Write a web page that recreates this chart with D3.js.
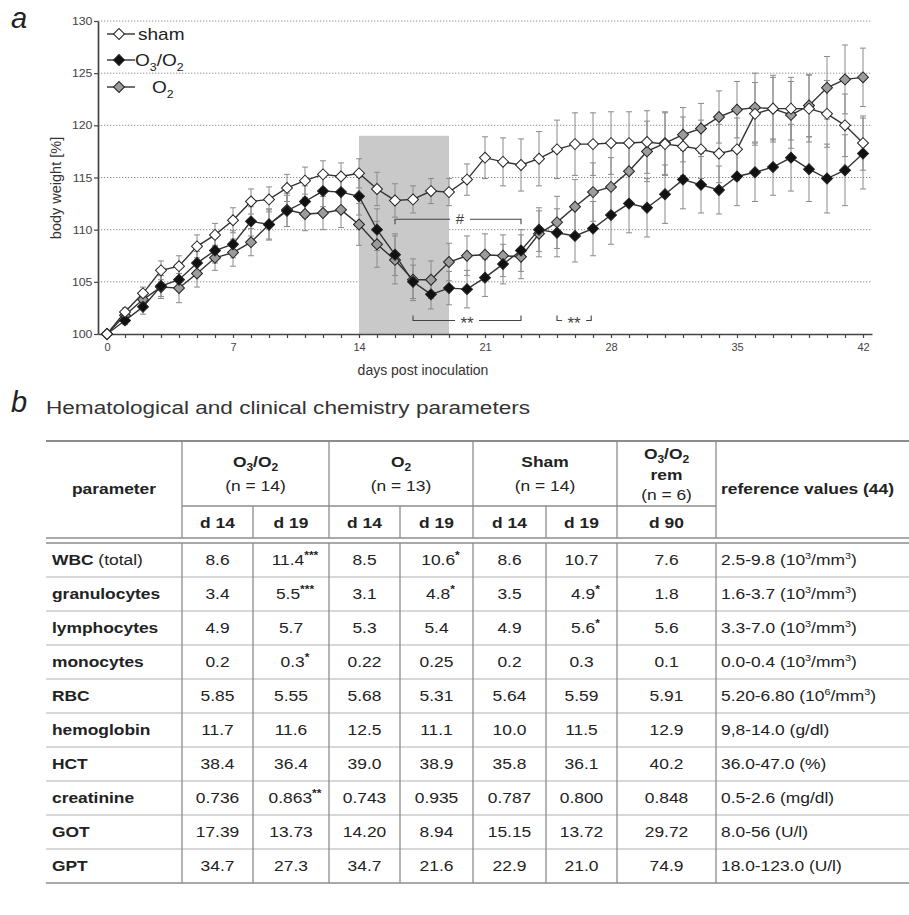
<!DOCTYPE html>
<html><head><meta charset="utf-8">
<script src="https://cdn.jsdelivr.net/npm/d3@7/dist/d3.min.js"></script>
<style>
body{margin:0;background:#fff}
svg{display:block}
text{font-family:"Liberation Sans",Arial,Helvetica,sans-serif}
</style>
</head><body>
<svg id="c" width="909" height="915"></svg>
<script>
// ---------------- DATA ----------------
const days = [0,1,2,3,4,5,6,7,8,9,10,11,12,13,14,15,16,17,18,19,20,21,22,23,24,25,26,27,28,29,30,31,32,33,34,35,36,37,38,39,40,41,42];
const shamMean = [100.0,102.1,103.9,106.1,106.5,108.4,109.5,110.9,112.7,112.9,114.0,114.7,115.3,115.1,115.4,113.9,112.8,112.9,113.7,113.6,114.8,116.9,116.5,116.2,116.8,117.7,118.2,118.2,118.3,118.3,118.4,118.2,118.0,117.7,117.3,117.7,121.1,121.6,121.6,121.6,121.1,120.0,118.3];
const shamErr  = [0,0.4,0.6,0.9,1.0,1.1,1.1,1.2,1.2,1.2,1.3,1.3,1.3,1.3,1.4,1.6,1.6,1.3,1.2,1.3,1.5,2.0,2.3,2.5,2.6,2.8,3.0,3.0,3.0,3.0,3.0,3.0,2.8,2.8,2.8,3.0,3.0,3.0,3.0,3.2,3.2,3.0,2.6];
const ozoneMean = [100.0,101.3,102.6,104.6,105.2,106.8,108.0,108.6,110.8,110.5,111.8,112.7,113.7,113.6,113.2,110.0,107.6,105.0,103.8,104.4,104.3,105.4,106.7,108.0,110.0,109.7,109.4,110.1,111.4,112.5,112.1,113.4,114.8,114.3,113.8,115.1,115.5,116.0,116.9,115.8,114.9,115.7,117.3];
const ozoneErr  = [0,0.4,0.7,1.0,1.0,1.1,1.2,1.3,1.4,1.4,1.5,1.5,1.5,1.6,1.8,2.0,2.0,1.6,1.4,1.6,1.8,1.8,1.9,2.0,2.1,2.3,2.5,2.6,2.8,2.8,2.8,2.8,2.8,2.7,2.3,2.8,2.8,2.7,3.2,3.1,3.3,3.4,3.4];
const oxyMean = [100.0,101.8,103.3,104.5,104.4,105.8,107.3,107.8,108.8,110.5,111.9,111.5,111.6,111.9,110.5,108.6,107.1,105.2,105.2,106.9,107.5,107.6,107.5,107.4,109.6,110.7,112.2,113.6,114.1,115.6,117.5,118.3,119.1,119.7,120.8,121.5,121.7,121.6,121.0,121.9,123.6,124.4,124.6];
const oxyErr  = [0,0.5,0.8,1.1,1.4,1.3,1.2,1.3,1.3,1.5,1.6,1.6,1.6,1.7,2.0,2.2,2.3,2.0,1.8,1.8,1.9,2.0,2.0,2.1,2.2,2.5,2.6,2.8,2.8,2.9,2.9,3.0,2.6,2.4,2.5,2.7,3.3,3.2,3.2,3.0,3.0,3.3,2.8];
const yTicks = [100,105,110,115,120,125,130];
const xLabelTicks = [0,7,14,21,28,35,42];
const treatmentPeriod = [14, 19];   // shaded days
const shadeTop = 119;
// significance brackets: [fromDay, toDay, level, label, tickDir]
const brackets = [
  [16, 23, 111.0, "#", 1],
  [17, 23, 101.3, "**", -1],
  [25, 26.9, 101.3, "**", -1]
];

// table
const groupHeads = ["O3/O2", "O2", "Sham", "O3/O2 rem"];
const groupN = ["(n = 14)", "(n = 13)", "(n = 14)", "(n = 6)"];
const dayHeads = ["d 14","d 19","d 14","d 19","d 14","d 19","d 90"];
const paramNames = ["WBC","granulocytes","lymphocytes","monocytes","RBC","hemoglobin","HCT","creatinine","GOT","GPT"];
const paramSuffix = [" (total)","","","","","","","","",""];
const colO3d14 = ["8.6","3.4","4.9","0.2","5.85","11.7","38.4","0.736","17.39","34.7"];
const colO3d19 = ["11.4|***","5.5|***","5.7","0.3|*","5.55","11.6","36.4","0.863|**","13.73","27.3"];
const colO2d14 = ["8.5","3.1","5.3","0.22","5.68","12.5","39.0","0.743","14.20","34.7"];
const colO2d19 = ["10.6|*","4.8|*","5.4","0.25","5.31","11.1","38.9","0.935","8.94","21.6"];
const colShd14 = ["8.6","3.5","4.9","0.2","5.64","10.0","35.8","0.787","15.15","22.9"];
const colShd19 = ["10.7","4.9|*","5.6|*","0.3","5.59","11.5","36.1","0.800","13.72","21.0"];
const colRem   = ["7.6","1.8","5.6","0.1","5.91","12.9","40.2","0.848","29.72","74.9"];
const refRange = ["2.5-9.8","1.6-3.7","3.3-7.0","0.0-0.4","5.20-6.80","9,8-14.0","36.0-47.0","0.5-2.6","8.0-56","18.0-123.0"];
const refUnit  = ["10^3/mm^3","10^3/mm^3","10^3/mm^3","10^3/mm^3","10^6/mm^3","g/dl","%","mg/dl","U/l","U/l"];

// ---------------- CHART ----------------
const svg = d3.select("#c");
const x = d3.scaleLinear().domain([-0.5, 42.5]).range([98, 872]);
const y = d3.scaleLinear().domain([100, 130]).range([334, 21]);

svg.append("text").attr("x", 11).attr("y", 28).attr("font-size", 29).attr("font-style","italic").attr("fill","#222").text("a");

// grid
svg.append("g").selectAll("line").data(yTicks.filter(d => d > 100)).join("line")
  .attr("x1", x(-0.5)).attr("x2", x(42.5)).attr("y1", d => y(d)).attr("y2", d => y(d))
  .attr("stroke", "#8f8f8f").attr("stroke-width", 1).attr("stroke-dasharray", "1.3,1.7");

// shaded treatment period
svg.append("rect").attr("x", x(treatmentPeriod[0])).attr("width", x(treatmentPeriod[1]) - x(treatmentPeriod[0]))
  .attr("y", y(shadeTop)).attr("height", y(100) - y(shadeTop)).attr("fill", "#c9c9c9");

// axes
const xAxis = d3.axisBottom(x).tickValues(days).tickSize(4).tickSizeOuter(0)
  .tickFormat(d => xLabelTicks.includes(d) ? d : "");
const gx = svg.append("g").attr("transform", `translate(0,${y(100)})`).call(xAxis);
const yAxis = d3.axisLeft(y).tickValues(yTicks).tickSize(4).tickSizeOuter(0);
const gy = svg.append("g").attr("transform", `translate(${x(-0.5)},0)`).call(yAxis);
[gx, gy].forEach(g => {
  g.select(".domain").attr("stroke", "#444").attr("stroke-width", 1.7);
  g.selectAll(".tick line").attr("stroke", "#444").attr("stroke-width", 1.2);
  g.selectAll(".tick text").attr("fill", "#444").attr("font-size", 11).attr("font-family", '"Liberation Sans",Arial,sans-serif');
});
gx.selectAll(".tick text").attr("dy", "0.95em");
gy.selectAll(".tick text").attr("x", -5).attr("transform", "scale(1.12,1)");

svg.append("text").attr("transform", `translate(61,188) rotate(-90)`)
  .attr("text-anchor", "middle").attr("font-size", 14.5).attr("fill", "#333").text("body weight [%]");
svg.append("text").attr("x", 423).attr("y", 375).attr("text-anchor", "middle")
  .attr("font-size", 14).attr("fill", "#333").text("days post inoculation");

// series
const series = [
  {mean: oxyMean, err: oxyErr, fill: "#9c9c9c"},
  {mean: ozoneMean, err: ozoneErr, fill: "#111"},
  {mean: shamMean, err: shamErr, fill: "#fff"}
];
const errG = svg.append("g");
series.forEach(s => {
  const g = errG.append("g").attr("stroke", "#8a8a8a").attr("stroke-width", 1);
  days.forEach((d, i) => {
    if (s.err[i] <= 0) return;
    const xc = x(d), y1 = y(s.mean[i] + s.err[i]), y2 = y(s.mean[i] - s.err[i]);
    g.append("line").attr("x1", xc).attr("x2", xc).attr("y1", y1).attr("y2", y2);
    g.append("line").attr("x1", xc - 3).attr("x2", xc + 3).attr("y1", y1).attr("y2", y1);
    g.append("line").attr("x1", xc - 3).attr("x2", xc + 3).attr("y1", y2).attr("y2", y2);
  });
});
const line = d3.line().x((d, i) => x(days[i])).y(d => y(d));
const sym = d3.symbol().type(d3.symbolSquare).size(60);
series.forEach(s => {
  svg.append("path").attr("d", line(s.mean)).attr("fill", "none").attr("stroke", "#333").attr("stroke-width", 1.4);
  svg.append("g").selectAll("path").data(s.mean).join("path")
    .attr("d", sym).attr("transform", (d, i) => `translate(${x(days[i])},${y(d)}) rotate(45)`)
    .attr("fill", s.fill).attr("stroke", "#222").attr("stroke-width", 1);
});

// brackets
brackets.forEach(([a, b, lev, lab, dir]) => {
  const x1 = x(a), x2 = x(b), yy = y(lev), xm = (x1 + x2) / 2 + (lab === "#" ? 2 : 0);
  const gap = lab === "#" ? 10 : 12;
  const g = svg.append("g").attr("stroke", "#444").attr("stroke-width", 1.1).attr("fill", "none");
  g.append("path").attr("d", `M${x1},${yy + dir * 5}V${yy}H${xm - gap}M${xm + gap},${yy}H${x2}V${yy + dir * 5}`);
  svg.append("text").attr("x", xm).attr("y", yy + (lab === "#" ? 5 : 9)).attr("text-anchor", "middle")
    .attr("font-size", lab === "#" ? 15 : 17).attr("fill", "#444").text(lab);
});

// legend
const legend = [
  {name: "sham", fill: "#fff", y: 34, tx: 138},
  {name: "O3/O2", fill: "#111", y: 60, tx: 135},
  {name: "O2", fill: "#9c9c9c", y: 87, tx: 152}
];
function subText(sel, str, size, subSize) {
  // renders O3/O2 style strings with subscripts
  const parts = str.split(/(\d)/).filter(p => p.length);
  parts.forEach(p => {
    if (/^\d$/.test(p)) {
      sel.append("tspan").attr("font-size", subSize).attr("dy", size * 0.28).text(p);
    } else {
      const t = sel.append("tspan").text(p);
      if (sel.selectAll("tspan").size() > 1) t.attr("dy", -size * 0.28);
    }
  });
}
legend.forEach(l => {
  svg.append("line").attr("x1", 107).attr("x2", 135).attr("y1", l.y).attr("y2", l.y).attr("stroke", "#333").attr("stroke-width", 1.4);
  svg.append("path").attr("d", sym).attr("transform", `translate(119,${l.y}) rotate(45)`)
    .attr("fill", l.fill).attr("stroke", "#222").attr("stroke-width", 1);
  const t = svg.append("text").attr("transform", `translate(${l.tx},${l.y + 6}) scale(1.12,1)`)
    .attr("font-size", 17).attr("fill", "#222");
  subText(t, l.name, 17, 11);
});

// ---------------- TABLE ----------------
svg.append("text").attr("x", 11).attr("y", 412).attr("font-size", 29).attr("font-style","italic").attr("fill","#222").text("b");
svg.append("text").attr("x", 46).attr("y", 414).attr("font-size", 17.5).attr("fill", "#333")
  .attr("textLength", 484).attr("lengthAdjust", "spacingAndGlyphs")
  .text("Hematological and clinical chemistry parameters");

const edges = [46, 182, 253, 329, 400, 473, 546, 617, 716, 909];
const tTop = 441, hMid = 506, hBot = 538, dTop = 543, rowH = 34;
const nRows = paramNames.length;
const tBot = dTop + rowH * nRows;
const tg = svg.append("g");
const ln = (x1, y1, x2, y2, w, c) => tg.append("line").attr("x1", x1).attr("y1", y1).attr("x2", x2).attr("y2", y2)
  .attr("stroke", c || "#8c8c8c").attr("stroke-width", w || 1.2);

ln(edges[0], tTop, edges[9], tTop, 2);
ln(edges[1], hMid, edges[8], hMid, 1.3);
ln(edges[0], hBot, edges[9], hBot, 1.5);
ln(edges[0], dTop, edges[9], dTop, 1.5);
for (let r = 1; r < nRows; r++) ln(edges[0], dTop + r * rowH, edges[9], dTop + r * rowH, 1, "#b0b0b0");
ln(edges[0], tBot, edges[9], tBot, 1.3);
// verticals
[1, 3, 5, 7, 8].forEach(k => { ln(edges[k], tTop, edges[k], hBot, 1.3); ln(edges[k], dTop, edges[k], tBot, 1.3); });
[2, 4, 6].forEach(k => { ln(edges[k], hMid, edges[k], hBot, 1.3); ln(edges[k], dTop, edges[k], tBot, 1.3); });

const SX = 1.2; // horizontal stretch of table lettering
function tText(xc, yb, anchor, size, weight) {
  return tg.append("text").attr("transform", `translate(${xc},${yb}) scale(${SX},1)`)
    .attr("text-anchor", anchor).attr("font-size", size).attr("font-weight", weight || "normal").attr("fill", "#222");
}
const FS = 14.5;
tText((edges[0] + edges[1]) / 2, 494, "middle", FS, "bold").text("parameter");
const groupSpans = [[1, 3], [3, 5], [5, 7], [7, 8]];
groupSpans.forEach(([a, b], i) => {
  const xc = (edges[a] + edges[b]) / 2;
  if (i < 3) {
    subText(tText(xc, 467, "middle", FS, "bold"), groupHeads[i], FS, 10);
    tText(xc, 491, "middle", FS).text(groupN[i]);
  } else {
    subText(tText(xc, 459, "middle", FS, "bold"), "O3/O2", FS, 10);
    tText(xc, 480, "middle", FS, "bold").text("rem");
    tText(xc, 500, "middle", FS).text(groupN[i]);
  }
});
tText(721, 494, "start", FS, "bold").text("reference values (44)");
dayHeads.forEach((d, i) => tText((edges[i + 1] + edges[i + 2]) / 2, 528, "middle", FS, "bold").text(d));

const cols = [colO3d14, colO3d19, colO2d14, colO2d19, colShd14, colShd19, colRem];
for (let r = 0; r < nRows; r++) {
  const yb = dTop + r * rowH + 22;
  const pt = tText(52, yb, "start", FS, "bold");
  pt.append("tspan").text(paramNames[r]);
  if (paramSuffix[r]) pt.append("tspan").attr("font-weight", "normal").text(paramSuffix[r]);
  cols.forEach((c, k) => {
    const [val, star] = c[r].split("|");
    const t = tText((edges[k + 1] + edges[k + 2]) / 2 + (star ? 4 : 0), yb, "middle", FS);
    t.append("tspan").text(val);
    if (star) t.append("tspan").attr("font-size", 10).attr("font-weight", "bold").attr("dy", -6).text(star);
  });
  const rt = tText(721, yb, "start", FS);
  rt.append("tspan").text(refRange[r] + " (");
  const u = refUnit[r];
  if (u.includes("^")) {
    const m = u.match(/^(\d+)\^(\d)\/(\w+)\^(\d)$/);
    rt.append("tspan").text(m[1]);
    rt.append("tspan").attr("font-size", 9).attr("dy", -6).text(m[2]);
    rt.append("tspan").attr("dy", 6).text("/" + m[3]);
    rt.append("tspan").attr("font-size", 9).attr("dy", -6).text(m[4]);
    rt.append("tspan").attr("dy", 6).text(")");
  } else {
    rt.append("tspan").text(u + ")");
  }
}
</script>
</body></html>
